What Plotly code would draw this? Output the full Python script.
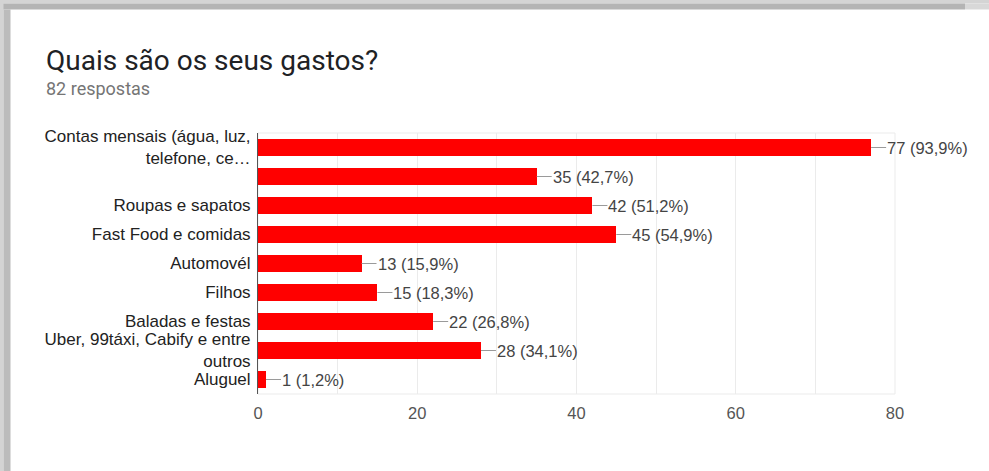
import plotly.graph_objects as go

# Survey answers, top to bottom
categories = [
    "Contas mensais (água, luz,<br>telefone, ce…",
    "",
    "Roupas e sapatos",
    "Fast Food e comidas",
    "Automovél",
    "Filhos",
    "Baladas e festas",
    "Uber, 99táxi, Cabify e entre<br>outros",
    "Aluguel",
]
counts = [77, 35, 42, 45, 13, 15, 22, 28, 1]
percents = ["93,9%", "42,7%", "51,2%", "54,9%", "15,9%", "18,3%", "26,8%", "34,1%", "1,2%"]
x_ticks = [0, 20, 40, 60, 80]
title_text = "Quais são os seus gastos?"
subtitle_text = "82 respostas"

W, H = 989, 471
L, R, T, B = 258, 895, 133, 394  # plot area in pixels


def px(x):
    return (x - L) / (R - L)


def py(y):
    return (B - y) / (B - T)


AXIS_FONT = "Liberation Sans, Arial, sans-serif"
positions = list(range(len(categories)))

fig = go.Figure(
    go.Bar(
        x=counts,
        y=positions,
        orientation="h",
        width=0.62,
        marker=dict(color="#ff0000", line=dict(width=0)),
        hoverinfo="skip",
    )
)

# value labels with a short leader line
annotations = []
for pos, c, p in zip(positions, counts, percents):
    annotations.append(
        dict(
            x=c, y=pos, xref="x", yref="y",
            text=f"{c} ({p})",
            showarrow=True, arrowhead=0, arrowwidth=1, arrowcolor="#9a9a9a",
            ax=15, ay=0, standoff=0, xanchor="left", yanchor="middle",
            borderpad=0,
            font=dict(family=AXIS_FONT, size=16.5, color="#444444"),
        )
    )

# heading
annotations.append(
    dict(
        x=px(44), y=py(60), xref="paper", yref="paper",
        text=title_text, showarrow=False, xanchor="left", yanchor="middle",
        font=dict(family="Roboto", size=28, color="#202124"),
    )
)
annotations.append(
    dict(
        x=px(44), y=py(88.5), xref="paper", yref="paper",
        text=subtitle_text, showarrow=False, xanchor="left", yanchor="middle",
        font=dict(family="Roboto", size=18, color="#757575"),
    )
)

shapes = [
    # light frame around the plotting area
    dict(type="rect", xref="paper", yref="paper", x0=0, x1=1, y0=0, y1=1,
         line=dict(color="#ebebeb", width=1), layer="below"),
    # card border: top band
    dict(type="rect", xref="paper", yref="paper", x0=px(0), x1=px(W), y0=py(0), y1=py(3.5),
         line=dict(width=0), fillcolor="#d4d4d4", layer="above"),
    dict(type="rect", xref="paper", yref="paper", x0=px(3), x1=px(965), y0=py(3.5), y1=py(9.5),
         line=dict(width=0), fillcolor="#b4b4b4", layer="above"),
    dict(type="rect", xref="paper", yref="paper", x0=px(965), x1=px(W), y0=py(3.5), y1=py(9.5),
         line=dict(width=0), fillcolor="#d8d8d8", layer="above"),
    # card border: left band
    dict(type="rect", xref="paper", yref="paper", x0=px(0), x1=px(3.5), y0=py(0), y1=py(H),
         line=dict(width=0), fillcolor="#d4d4d4", layer="above"),
    dict(type="rect", xref="paper", yref="paper", x0=px(3.5), x1=px(10.5), y0=py(9.5), y1=py(H),
         line=dict(width=0), fillcolor="#bcbcbc", layer="above"),
]

fig.update_layout(
    width=W, height=H,
    margin=dict(l=L, r=W - R, t=T, b=H - B, pad=0),
    paper_bgcolor="white", plot_bgcolor="white",
    showlegend=False,
    annotations=annotations,
    shapes=shapes,
    bargap=0,
)

fig.update_xaxes(
    range=[0, 80],
    tickvals=x_ticks,
    ticktext=[str(v) for v in x_ticks],
    showgrid=True, gridcolor="#ebebeb", gridwidth=1,
    minor=dict(dtick=10, showgrid=True, gridcolor="#ebebeb", gridwidth=1),
    zeroline=False, showline=False,
    ticks="", ticklabelstandoff=7,
    tickfont=dict(family=AXIS_FONT, size=16.5, color="#555555"),
)

fig.update_yaxes(
    range=[len(categories) - 0.5, -0.5],
    tickvals=positions,
    ticktext=categories,
    showgrid=False, zeroline=False,
    showline=True, linecolor="#555555", linewidth=1,
    ticks="", ticklabelstandoff=3,
    tickfont=dict(family=AXIS_FONT, size=17, color="#222222"),
)

fig.write_html("out.html")
